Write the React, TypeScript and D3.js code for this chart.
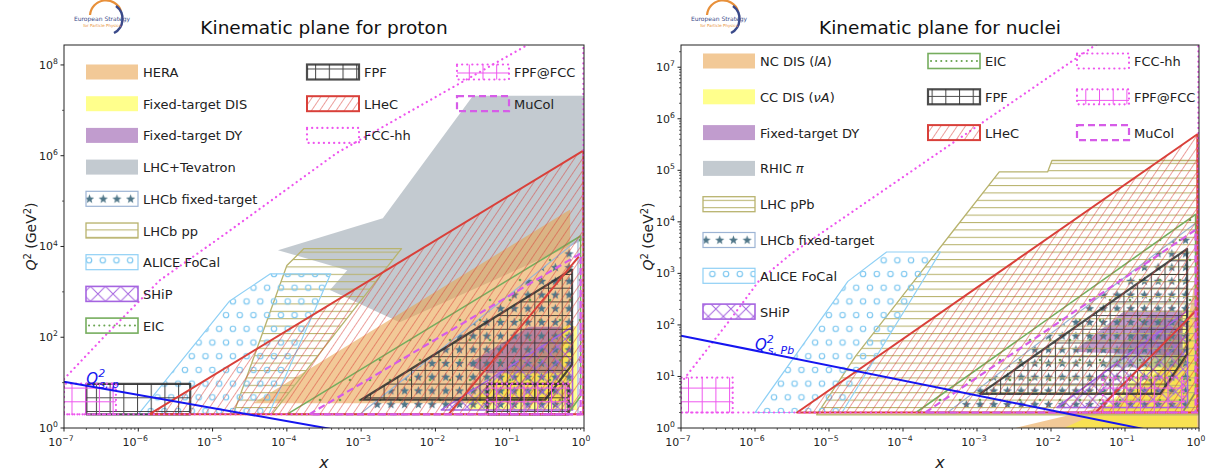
import React from "react";
import * as d3 from "d3";

type Pt = [number, number];

// ---------- proton panel data (x, Q^2 in GeV^2) ----------
const pLHC: Pt[] = [[1, 2.1e7], [0.032, 2.1e7], [1.96e-3, 4.2e4], [7.6e-5, 8.3e3], [6.5e-4, 3.0e3], [3.8e-4, 1.1e3], [3.3e-3, 215], [1, 1.4e4]];
const pHERA: Pt[] = [[3.5e-5, 3.5], [0.65, 6.5e4], [0.65, 3.5]];
const pFTDIS: Pt[] = [[0.028, 2.5], [0.028, 4], [0.6, 190], [0.8, 170], [0.8, 2.5]];
const pFTDY: Pt[] = [[0.027, 25], [0.18, 170], [0.5, 170], [0.5, 16], [0.05, 16]];
const pLHCbFT: Pt[] = [[9.6e-4, 2], [0.83, 1.4e4], [0.83, 2]];
const pLHCbpp: Pt[] = [[1.9e-5, 2], [1e-4, 3800], [1.7e-4, 9000], [3.5e-3, 9000], [6.3e-5, 2]];
const pFoCal: Pt[] = [[1e-6, 2], [1.7e-5, 630], [6e-5, 2500], [3.9e-4, 2500], [5.7e-5, 2]];
const pSHiP: Pt[] = [[0.012, 2.5], [0.7, 170], [0.7, 2.5]];
const pEIC: Pt[] = [[1e-4, 2], [0.9, 1.7e4], [0.9, 5], [0.6, 2]];
const pFPFa: Pt[] = [[2e-7, 2], [5e-6, 2], [5e-6, 9.4], [2e-7, 9.4]];
const pFPFb: Pt[] = [[0.05, 2], [0.62, 2], [0.62, 9.4], [0.05, 9.4]];
const pFPFc: Pt[] = [[1e-3, 4.2], [0.69, 3100], [0.69, 25], [0.3, 4.2]];
const pLHeC: Pt[] = [[1.4e-6, 2], [0.98, 1.3e6], [0.98, 2]];
const pLHeCcut: Pt[] = [[0.015, 2], [0.85, 6000]];
const pFCC: Pt[] = [[1e-7, 12], [3.8e-7, 120], [1.95e-6, 1800], [1.55e-5, 2e4], [4.7e-4, 1.15e6], [0.19, 3e8], [0.98, 1.6e9], [0.98, 2], [1e-7, 2]];
const pFPFFCCa: Pt[] = [[1e-7, 2], [5e-7, 2], [5e-7, 9.5], [1e-7, 9.5]];
const pFPFFCCb: Pt[] = [[0.05, 2], [0.62, 2], [0.62, 9.5], [0.05, 9.5]];
const pMuCol: Pt[] = [[2e-4, 2], [0.9, 7000], [0.9, 2]];
const pQs: Pt[] = [[1e-7, 10.5], [1, 0.098]];

// ---------- nuclei panel data ----------
const nNC: Pt[] = [[3.3e-3, 1], [0.08, 3], [0.6, 30], [0.88, 700], [1, 700], [1, 1]];
const nCC: Pt[] = [[0.015, 1], [0.05, 2.2], [0.3, 30], [0.6, 200], [0.8, 200], [0.95, 1]];
const nDY: Pt[] = [[0.02, 30], [0.1, 190], [0.6, 190], [0.6, 25]];
const nRHIC: Pt[] = [[0.05, 15], [0.2, 150], [0.6, 150], [0.6, 15]];
const nLHCpPb: Pt[] = [[6.8e-6, 1.8], [2.3e-5, 25], [4.8e-4, 6800], [2e-3, 9.3e4], [9e-3, 9.3e4], [1.03e-2, 1.55e5], [0.97, 1.55e5], [0.97, 1.8]];
const nLHCbFT: Pt[] = [[4e-4, 2], [0.95, 1e4], [0.95, 2]];
const nFoCal: Pt[] = [[1e-6, 2], [1.8e-5, 700], [6e-5, 2600], [3.2e-4, 2600], [1.5e-5, 2]];
const nSHiP: Pt[] = [[0.012, 2.5], [0.7, 190], [0.7, 2.5]];
const nEIC: Pt[] = [[1.5e-4, 2], [0.9, 1.4e4], [0.9, 5], [0.6, 2]];
const nFPF: Pt[] = [[1.1e-3, 4.6], [0.69, 3000], [0.69, 27], [0.3, 4.6]];
const nLHeC: Pt[] = [[3.7e-6, 2], [0.95, 5e5], [0.95, 2]];
const nLHeCcut: Pt[] = [[0.04, 2], [0.95, 200]];
const nFCC: Pt[] = [[1e-7, 7.5], [4.5e-7, 120], [1.15e-6, 740], [3.2e-6, 2500], [0.04, 2.7e7], [0.98, 6e8], [0.98, 2], [1e-7, 2]];
const nFPFFCCa: Pt[] = [[1e-7, 2], [5e-7, 2], [5e-7, 9.5], [1e-7, 9.5]];
const nFPFFCCb: Pt[] = [[0.05, 2], [0.62, 2], [0.62, 9.5], [0.05, 9.5]];
const nMuCol: Pt[] = [[2e-4, 2], [0.9, 7000], [0.9, 2]];
const nQs: Pt[] = [[1e-7, 62], [1, 0.58]];

const protonLegend = [
  ["HERA", "Fixed-target DIS", "Fixed-target DY", "LHC+Tevatron", "LHCb fixed-target", "LHCb pp", "ALICE FoCal", "SHiP", "EIC"],
  ["FPF", "LHeC", "FCC-hh"],
  ["FPF@FCC", "MuCol"],
];
const nucleiLegend = [
  ["NC DIS (lA)", "CC DIS (νA)", "Fixed-target DY", "RHIC π", "LHC pPb", "LHCb fixed-target", "ALICE FoCal", "SHiP"],
  ["EIC", "FPF", "LHeC"],
  ["FCC-hh", "FPF@FCC", "MuCol"],
];

const FONT = "DejaVu Sans, Verdana, sans-serif";

type Style = {
  fill?: string; fo?: number; pat?: string; stroke?: string; sw?: number; dash?: string; so?: number; cap?: "round" | "butt";
};

const ST: Record<string, Style> = {
  hera: { fill: "#e9a552", fo: 0.6 },
  ftdis: { fill: "#ffff00", fo: 0.45 },
  ftdy: { fill: "#8e4aa6", fo: 0.55 },
  gray: { fill: "#708090", fo: 0.42 },
  lhcbft: { pat: "pat-star", stroke: "#9db4d4", sw: 1.2 },
  lhcbpp: { pat: "pat-olive", stroke: "#b8b36e", sw: 1.3 },
  focal: { pat: "pat-circ", stroke: "#8fd0f5", sw: 1.2 },
  ship: { pat: "pat-x", stroke: "#a564e0", sw: 1.6 },
  eic: { pat: "pat-dot", stroke: "#76ad5e", sw: 1.6 },
  fpf: { pat: "pat-grid", stroke: "#2e2e2e", sw: 2.2, so: 0.85 },
  lhec: { pat: "pat-red", stroke: "#d9403a", sw: 2 },
  fcc: { stroke: "#ee55ee", sw: 2.2, dash: "0.1 5", cap: "round" },
  fpffcc: { pat: "pat-mgrid", stroke: "#ee55ee", sw: 2.2, dash: "0.1 5", cap: "round" },
  mucol: { stroke: "#d65ce8", sw: 2.2, dash: "7 4" },
};

const legendStyle: Record<string, string> = {
  "HERA": "hera", "NC DIS (lA)": "hera", "Fixed-target DIS": "ftdis", "CC DIS (νA)": "ftdis",
  "Fixed-target DY": "ftdy", "LHC+Tevatron": "gray", "RHIC π": "gray", "LHCb fixed-target": "lhcbft",
  "LHCb pp": "lhcbpp", "LHC pPb": "lhcbpp", "ALICE FoCal": "focal", "SHiP": "ship", "EIC": "eic",
  "FPF": "fpf", "LHeC": "lhec", "FCC-hh": "fcc", "FPF@FCC": "fpffcc", "MuCol": "mucol",
};

type Layer = { pts: Pt[]; st: string; open?: boolean };

type PanelCfg = {
  id: string; x0: number; x1: number; y0: number; y1: number; yTop: number; yStep: number;
  title: string; layers: Layer[]; qs: Pt[]; qsLabel: [number, number]; qsSub: string;
  legend: string[][]; legX: number[]; legY: number; legDy: number;
};

const proton: PanelCfg = {
  id: "p", x0: 64, x1: 584, y0: 45, y1: 428, yTop: 2.75e8, yStep: 2,
  title: "Kinematic plane for proton",
  layers: [
    { pts: pLHC, st: "gray" }, { pts: pHERA, st: "hera" }, { pts: pFTDIS, st: "ftdis" }, { pts: pFTDY, st: "ftdy" },
    { pts: pLHCbFT, st: "lhcbft" }, { pts: pLHCbpp, st: "lhcbpp" }, { pts: pFoCal, st: "focal" },
    { pts: pSHiP, st: "ship" }, { pts: pEIC, st: "eic" },
    { pts: pFPFa, st: "fpf" }, { pts: pFPFb, st: "fpf" }, { pts: pFPFc, st: "fpf" },
    { pts: pLHeC, st: "lhec" }, { pts: pLHeCcut, st: "lhec", open: true },
    { pts: pFCC, st: "fcc" }, { pts: pFPFFCCa, st: "fpffcc" }, { pts: pFPFFCCb, st: "fpffcc" },
    { pts: pMuCol, st: "mucol" },
  ],
  qs: pQs, qsLabel: [2e-7, 9.3], qsSub: "s, p",
  legend: protonLegend, legX: [86, 307, 457], legY: 72, legDy: 31.7,
};

const nuclei: PanelCfg = {
  id: "n", x0: 681, x1: 1199, y0: 45, y1: 428, yTop: 2.7e7, yStep: 1,
  title: "Kinematic plane for nuclei",
  layers: [
    { pts: nNC, st: "hera" }, { pts: nCC, st: "ftdis" }, { pts: nRHIC, st: "gray" }, { pts: nDY, st: "ftdy" },
    { pts: nLHCbFT, st: "lhcbft" }, { pts: nLHCpPb, st: "lhcbpp" }, { pts: nFoCal, st: "focal" },
    { pts: nSHiP, st: "ship" }, { pts: nEIC, st: "eic" }, { pts: nFPF, st: "fpf" },
    { pts: nLHeC, st: "lhec" }, { pts: nLHeCcut, st: "lhec", open: true },
    { pts: nFCC, st: "fcc" }, { pts: nFPFFCCa, st: "fpffcc" }, { pts: nFPFFCCb, st: "fpffcc" },
    { pts: nMuCol, st: "mucol" },
  ],
  qs: nQs, qsLabel: [1e-6, 32], qsSub: "s, Pb",
  legend: nucleiLegend, legX: [703, 928, 1077], legY: 61, legDy: 35.8,
};

function starPath(cx: number, cy: number, R: number, r: number) {
  const p: string[] = [];
  for (let i = 0; i < 10; i++) {
    const a = -Math.PI / 2 + (i * Math.PI) / 5;
    const rr = i % 2 === 0 ? R : r;
    p.push(`${(cx + rr * Math.cos(a)).toFixed(2)},${(cy + rr * Math.sin(a)).toFixed(2)}`);
  }
  return "M" + p.join("L") + "Z";
}

const U = 13.7;

function Patterns() {
  // staggered layout: rows U apart, every other row shifted half a column
  const stag: Pt[] = [[0, 0], [U, 0], [U / 2, U], [0, 2 * U], [U, 2 * U]];
  const dotU = 20;
  const dots: Pt[] = [[0, 0], [dotU, 0], [dotU / 2, dotU], [0, 2 * dotU], [dotU, 2 * dotU]];
  return (
    <defs>
      <pattern id="pat-red" width={6.8} height={6.8} patternUnits="userSpaceOnUse" patternTransform="rotate(34)">
        <line x1={0} y1={-1} x2={0} y2={8} stroke="#d9403a" strokeWidth={1} />
      </pattern>
      <pattern id="pat-olive" width={10} height={7.4} patternUnits="userSpaceOnUse">
        <line x1={-1} y1={0.5} x2={11} y2={0.5} stroke="#b8b36e" strokeWidth={1.1} />
      </pattern>
      <pattern id="pat-grid" width={U} height={U} patternUnits="userSpaceOnUse">
        <path d={`M0,0.5H${U}M0.5,0V${U}`} stroke="#2a2a2a" strokeOpacity={0.85} strokeWidth={1.1} fill="none" />
      </pattern>
      <pattern id="pat-mgrid" width={U} height={U} patternUnits="userSpaceOnUse" x={3} y={4}>
        <path d={`M0,0.5H${U}M0.5,0V${U}`} stroke="#ee55ee" strokeWidth={1} fill="none" />
      </pattern>
      <pattern id="pat-x" width={U * 1.1} height={U * 1.1} patternUnits="userSpaceOnUse">
        <path d={`M0,0L${U * 1.1},${U * 1.1}M${U * 1.1},0L0,${U * 1.1}`} stroke="#a564e0" strokeWidth={1} fill="none" />
      </pattern>
      <pattern id="pat-circ" width={U} height={2 * U} patternUnits="userSpaceOnUse">
        {stag.map((c, i) => <circle key={i} cx={c[0]} cy={c[1]} r={2.7} fill="none" stroke="#7fc8f0" strokeWidth={1.2} />)}
      </pattern>
      <pattern id="pat-star" width={U} height={U} patternUnits="userSpaceOnUse">
        <path d={starPath(U / 2 + 0.5, U / 2 + 0.5, 4.8, 2)} fill="#4f7688" />
      </pattern>
      <pattern id="pat-dot" width={dotU} height={2 * dotU} patternUnits="userSpaceOnUse">
        {dots.map((c, i) => <circle key={i} cx={c[0]} cy={c[1]} r={1.3} fill="#6aa552" />)}
      </pattern>
    </defs>
  );
}

function Sup({ base, exp, size }: { base: string; exp: string; size: number }) {
  return (
    <>
      {base}
      <tspan dy={-size * 0.45} fontSize={size * 0.7}>{exp}</tspan>
    </>
  );
}

function shapeProps(s: Style) {
  return {
    stroke: s.stroke || "none",
    strokeWidth: s.sw || 0,
    strokeDasharray: s.dash,
    strokeLinecap: s.cap,
    strokeOpacity: s.so,
  };
}

function LegendLabel({ text }: { text: string }) {
  if (text === "NC DIS (lA)") return <>NC DIS (<tspan fontStyle="italic">lA</tspan>)</>;
  if (text === "CC DIS (νA)") return <>CC DIS (<tspan fontStyle="italic">νA</tspan>)</>;
  if (text === "RHIC π") return <>RHIC <tspan fontStyle="italic">π</tspan></>;
  return <>{text}</>;
}

function Logo({ x, y }: { x: number; y: number }) {
  return (
    <g transform={`translate(${x},${y})`}>
      <path d="M-14,-4 A16,16 0 0 1 17,-8" fill="none" stroke="#e8903a" strokeWidth={2.2} />
      <path d="M12,-13 A16,16 0 0 1 10,14" fill="none" stroke="#3a4a8a" strokeWidth={2.4} />
      <text x={-2} y={2} fontSize={6} fill="#3a4a8a" fontFamily={FONT} textAnchor="middle">European Strategy</text>
      <text x={-2} y={8} fontSize={4} fill="#e8903a" fontFamily={FONT} textAnchor="middle">for Particle Physics</text>
    </g>
  );
}

function Panel({ cfg }: { cfg: PanelCfg }) {
  const x = d3.scaleLog().domain([1e-7, 1]).range([cfg.x0, cfg.x1]);
  const y = d3.scaleLog().domain([1, cfg.yTop]).range([cfg.y1, cfg.y0]);
  const line = d3.line<Pt>().x((d) => x(d[0])).y((d) => y(d[1]));
  const clip = `clip-${cfg.id}`;
  const xMajor = d3.range(-7, 1);
  const xMinor: number[] = [];
  for (let e = -7; e < 0; e++) for (let k = 2; k <= 9; k++) xMinor.push(k * 10 ** e);
  const yMaxExp = Math.floor(Math.log10(cfg.yTop));
  const yMajor = d3.range(0, yMaxExp + 1, cfg.yStep);
  const yMinor: number[] = [];
  if (cfg.yStep === 2) {
    for (let e = 1; e <= yMaxExp; e += 2) yMinor.push(10 ** e);
  } else {
    for (let e = 0; e <= yMaxExp; e++) for (let k = 2; k <= 9; k++) if (k * 10 ** e < cfg.yTop) yMinor.push(k * 10 ** e);
  }
  const cx = (cfg.x0 + cfg.x1) / 2;
  const cy = (cfg.y0 + cfg.y1) / 2;
  return (
    <g>
      <clipPath id={clip}>
        <rect x={cfg.x0} y={cfg.y0} width={cfg.x1 - cfg.x0} height={cfg.y1 - cfg.y0} />
      </clipPath>
      <g clipPath={`url(#${clip})`}>
        {cfg.layers.map((l, i) => {
          const s = ST[l.st];
          const d = line(l.pts) + (l.open ? "" : "Z");
          return (
            <g key={i}>
              {!l.open && s.fill && <path d={d} fill={s.fill} fillOpacity={s.fo} stroke="none" />}
              {!l.open && s.pat && <path d={d} fill={`url(#${s.pat})`} stroke="none" />}
              <path d={d} fill="none" {...shapeProps(s)} strokeLinejoin="round" />
            </g>
          );
        })}
        <path d={line(cfg.qs) || ""} fill="none" stroke="#1515f0" strokeWidth={2} />
      </g>
      <text x={x(cfg.qsLabel[0])} y={y(cfg.qsLabel[1])} fill="#1515f0" fontFamily={FONT} fontSize={15} fontStyle="italic">
        Q<tspan dy={-7} fontSize={11}>2</tspan>
        <tspan dx={-6} dy={11} fontSize={11}>{cfg.qsSub}</tspan>
      </text>
      <rect x={cfg.x0} y={cfg.y0} width={cfg.x1 - cfg.x0} height={cfg.y1 - cfg.y0} fill="none" stroke="#222" strokeWidth={1} />
      {xMajor.map((e) => (
        <g key={e}>
          <line x1={x(10 ** e)} x2={x(10 ** e)} y1={cfg.y1} y2={cfg.y1 + 3.5} stroke="#222" />
          <text x={x(10 ** e) - 3} y={cfg.y1 + 18} textAnchor="middle" fontFamily={FONT} fontSize={11} fill="#222">
            <Sup base="10" exp={e === 0 ? "0" : `\u2212${-e}`} size={11} />
          </text>
        </g>
      ))}
      {xMinor.map((v, i) => (
        <line key={i} x1={x(v)} x2={x(v)} y1={cfg.y1} y2={cfg.y1 + 2} stroke="#222" strokeWidth={0.7} />
      ))}
      {yMajor.map((e) => (
        <g key={e}>
          <line x1={cfg.x0 - 3.5} x2={cfg.x0} y1={y(10 ** e)} y2={y(10 ** e)} stroke="#222" />
          <text x={cfg.x0 - 6} y={y(10 ** e) + 4} textAnchor="end" fontFamily={FONT} fontSize={11} fill="#222">
            <Sup base="10" exp={`${e}`} size={11} />
          </text>
        </g>
      ))}
      {yMinor.map((v, i) => (
        <line key={i} x1={cfg.x0 - 2} x2={cfg.x0} y1={y(v)} y2={y(v)} stroke="#222" strokeWidth={0.7} />
      ))}
      <text x={cx} y={cfg.y1 + 40} textAnchor="middle" fontFamily={FONT} fontSize={16} fontStyle="italic" fill="#222">x</text>
      <text transform={`translate(${cfg.x0 - 28},${cy}) rotate(-90)`} textAnchor="middle" fontFamily={FONT} fontSize={14} fill="#222">
        <tspan fontStyle="italic">Q</tspan><tspan dy={-5} fontSize={10}>2</tspan><tspan dy={5}> (GeV</tspan><tspan dy={-5} fontSize={10}>2</tspan><tspan dy={5}>)</tspan>
      </text>
      <text x={cx} y={34} textAnchor="middle" fontFamily={FONT} fontSize={18.5} fill="#111">{cfg.title}</text>
      <Logo x={cfg.x0 + 40} y={19} />
      {cfg.legend.map((col, ci) =>
        col.map((lab, ri) => {
          const s = ST[legendStyle[lab]];
          const bx = cfg.legX[ci];
          const by = cfg.legY + ri * cfg.legDy;
          const isEIC = lab === "EIC";
          return (
            <g key={`${ci}-${ri}`}>
              {s.fill && <rect x={bx} y={by - 7.5} width={52} height={15} fill={s.fill} fillOpacity={s.fo} />}
              {s.pat && !isEIC && <rect x={bx} y={by - 7.5} width={52} height={15} fill={`url(#${s.pat})`} />}
              {isEIC && (
                <line x1={bx + 3} x2={bx + 50} y1={by} y2={by} stroke="#6aa552" strokeWidth={2} strokeDasharray="0.1 5" strokeLinecap="round" />
              )}
              {s.stroke && <rect x={bx} y={by - 7.5} width={52} height={15} fill="none" {...shapeProps(s)} />}
              <text x={bx + 57} y={by + 5} fontFamily={FONT} fontSize={13} fill="#222">
                <LegendLabel text={lab} />
              </text>
            </g>
          );
        })
      )}
    </g>
  );
}

export default function App() {
  return (
    <svg width={1220} height={472} style={{ position: "absolute", left: 0, top: 0, background: "#fff" }}>
      <Patterns />
      <rect x={0} y={0} width={1220} height={472} fill="#fff" />
      <Panel cfg={proton} />
      <Panel cfg={nuclei} />
    </svg>
  );
}
